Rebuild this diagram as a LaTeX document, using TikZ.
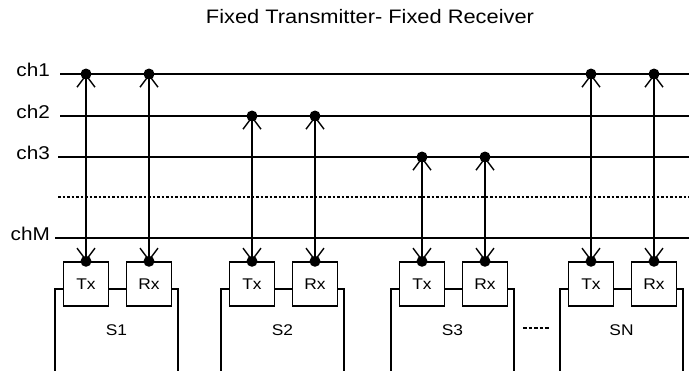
\documentclass[tikz,border=0pt]{standalone}
\usepackage{fontspec}
\setmainfont{Liberation Sans}
\newfontfamily\wide[FakeStretch=1.12]{Liberation Sans}
\usetikzlibrary{arrows.meta}
\begin{document}
\begin{tikzpicture}[x=1pt,y=-1pt,
  chan/.style={line width=1.5pt},
  frame/.style={line width=1.4pt},
  boxn/.style={draw,line width=1.4pt,minimum width=45pt,minimum height=44pt,inner sep=0pt,fill=white,font=\wide\fontsize{15.5}{15.5}\selectfont},
  dotn/.style={circle,fill=black,inner sep=0pt,minimum size=11pt},
  link/.style={line width=1.4pt,{Straight Barb[length=12pt,width=18pt]}-{Straight Barb[length=12pt,width=18pt]}},
  lbl/.style={font=\wide\fontsize{18.5}{18.5}\selectfont,anchor=east,inner sep=0pt},
  slbl/.style={font=\wide\fontsize{15.5}{15.5}\selectfont,inner sep=0pt},
]
\useasboundingbox (0,0) rectangle (689,370);
\node[font=\wide\fontsize{19.5}{19.5}\selectfont,inner sep=0pt] (title) at (370,17) {Fixed Transmitter- Fixed Receiver};
% channels
\foreach \n/\y/\xs in {1/74/60, 2/116/60, 3/157/58, M/238/55}{
  \node[lbl] (lab\n) at (50,\y-4) {ch\n};
  \coordinate (cs\n) at (\xs,\y);
  \coordinate (ce\n) at (689,\y);
  \draw[chan] (cs\n) -- (ce\n);
}
\coordinate (dots) at (58,197);
\coordinate (dote) at (689,197);
\draw[chan,dash pattern=on 2.5pt off 2pt] (dots) -- (dote);
% stations
\foreach \i/\d/\c in {1/86/74, 2/252/116, 3/422/157, N/591/74}{
  \draw[frame] (\d-31,371) -- (\d-31,289) -- (\d+92,289) -- (\d+92,371);
  \node[boxn] (tx\i) at (\d,284) {Tx};
  \node[boxn] (rx\i) at (\d+63,284) {Rx};
  \node[dotn] (tdot\i) at (tx\i.north) {};
  \node[dotn] (rdot\i) at (rx\i.north) {};
  \node[dotn] (ctd\i) at (\d,\c) {};
  \node[dotn] (crd\i) at (\d+63,\c) {};
  \draw[link] (ctd\i.center) -- (tdot\i.center);
  \draw[link] (crd\i.center) -- (rdot\i.center);
  \node[slbl] (s\i) at (\d+30.5,330) {S\i};
}
\coordinate (ga) at (523,328);
\coordinate (gb) at (550,328);
\draw[frame,dash pattern=on 3.5pt off 2pt] (ga) -- (gb);
\end{tikzpicture}
\end{document}
